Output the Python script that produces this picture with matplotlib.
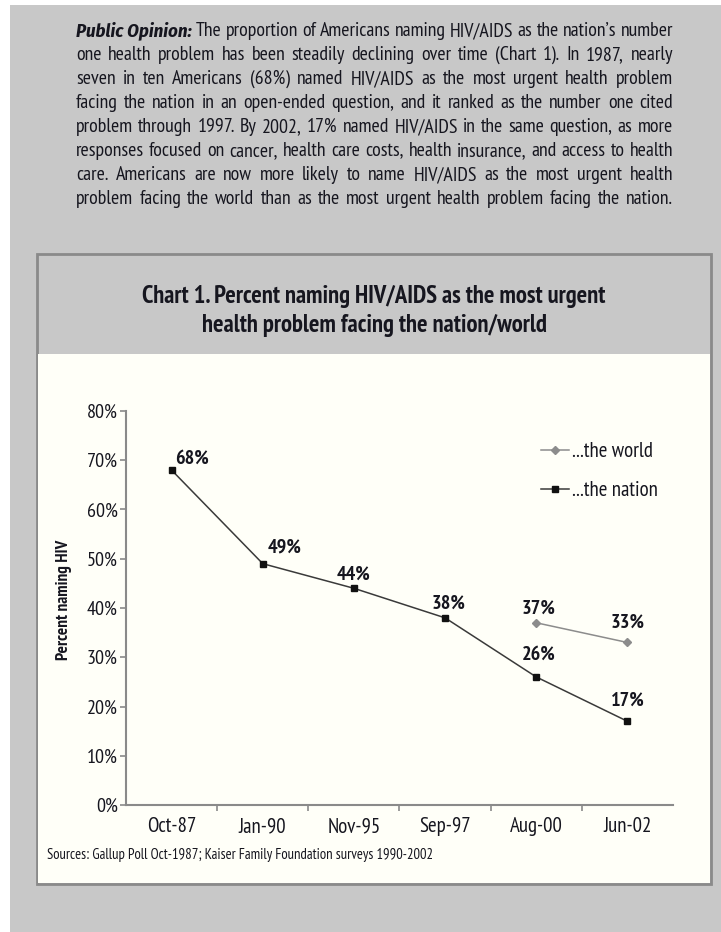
import matplotlib
matplotlib.use("Agg")
import matplotlib.pyplot as plt
from matplotlib.patches import Rectangle
from matplotlib.lines import Line2D

W, H = 721, 932

# ---------------- data ----------------
categories = ["Oct-87", "Jan-90", "Nov-95", "Sep-97", "Aug-00", "Jun-02"]
nation = [68, 49, 44, 38, 26, 17]
world_idx = [4, 5]
world = [37, 33]
y_ticks = [0, 10, 20, 30, 40, 50, 60, 70, 80]
# label offsets in pixels (dx, dy)
nation_off = [(20, 11), (22, 16), (0, 14), (4, 14), (2, 22), (0, 21)]
world_off = [(2, 14), (0, 20)]

body_lines = [
    [("Public Opinion:", "bi"), ("The proportion of Americans naming HIV/AIDS as the nation\u2019s number", "n")],
    [("one health problem has been steadily declining over time (Chart 1). In 1987, nearly", "n")],
    [("seven in ten Americans (68%) named HIV/AIDS as the most urgent health problem", "n")],
    [("facing the nation in an open-ended question, and it ranked as the number one cited", "n")],
    [("problem through 1997.  By 2002, 17% named HIV/AIDS in the same question, as more", "n")],
    [("responses focused on cancer, health care costs, health insurance, and access to health", "n")],
    [("care.  Americans are now more likely to name HIV/AIDS as the most urgent health", "n")],
    [("problem facing the world than as the most urgent health problem facing the nation.", "n")],
]
title_lines = ["Chart 1. Percent naming HIV/AIDS as the most urgent",
               "health problem facing the nation/world"]
source_text = "Sources: Gallup Poll Oct-1987; Kaiser Family Foundation surveys 1990-2002"

FONT = ["PT Sans Narrow", "DejaVu Sans"]
FONT_BI = ["Fira Sans Condensed", "DejaVu Sans"]
plt.rcParams["font.family"] = FONT
TXT = "#16161f"

fig = plt.figure(figsize=(W / 100, H / 100), dpi=100)
fig.patch.set_facecolor("white")


def fx(px):
    return px / W


def fy(py):
    return 1 - py / H


def rect(x0, y0, x1, y1, **kw):
    fig.patches.append(Rectangle((fx(x0), fy(y1)), fx(x1) - fx(x0), fy(y0) - fy(y1),
                                 transform=fig.transFigure, figure=fig, **kw))


# backgrounds
rect(10, 5, 721, 932, facecolor="#c8c8c8", edgecolor="none", zorder=0)
rect(37, 254, 711, 884, facecolor="#c8c8c8", edgecolor="#8a8a8a", linewidth=2, zorder=1)
rect(38, 354, 710, 883, facecolor="#fffff8", edgecolor="none", zorder=1)

# ---------------- justified body text ----------------
renderer = fig.canvas.get_renderer()
x_left, x_right = 76, 673
line_y0, line_dy = 31, 24
body_fs = 14.3
for i, segs in enumerate(body_lines):
    words = []
    for s, st in segs:
        if st == "bi":
            words.append((s, "bi"))
        else:
            for w in s.split():
                words.append((w, "n"))
    ypx = line_y0 + i * line_dy
    objs = []
    total = 0
    for w, st in words:
        if st == "bi":
            t = fig.text(0, fy(ypx), w, fontsize=body_fs - 0.8, color=TXT, va="center", ha="left",
                         fontweight="bold", fontstyle="italic", family=FONT_BI, zorder=3)
        else:
            t = fig.text(0, fy(ypx), w, fontsize=body_fs, color=TXT, va="center", ha="left", zorder=3)
        bb = t.get_window_extent(renderer)
        objs.append((t, bb.width))
        total += bb.width
    gap = (x_right - x_left - total) / max(1, len(objs) - 1)
    x = x_left
    for t, wd in objs:
        t.set_x(fx(x))
        x += wd + gap

# ---------------- title ----------------
for j, tl in enumerate(title_lines):
    fig.text(fx(374), fy(296 + j * 29), tl, fontsize=17.7, fontweight="bold", color=TXT,
             ha="center", va="center", zorder=3)

# ---------------- axes ----------------
ax_l, ax_r, ax_t, ax_b = 126, 673, 411, 805
ax = fig.add_axes([fx(ax_l), fy(ax_b), fx(ax_r) - fx(ax_l), fy(ax_t) - fy(ax_b)], zorder=2)
ax.set_facecolor("none")
x = list(range(len(categories)))
ax.plot(x, nation, color="#3a3a3a", lw=1.1, marker="s", ms=4.5, mfc="#111111", mec="#111111",
        label="...the nation", zorder=3)
ax.plot(world_idx, world, color="#8c8c8c", lw=1.1, marker="D", ms=4, mfc="#8c8c8c", mec="#8c8c8c",
        label="...the world", zorder=3)

for i, v in enumerate(nation):
    dx, dy = nation_off[i]
    ax.annotate(f"{v}%", (i, v), xytext=(dx * 0.72, dy * 0.72), textcoords="offset points",
                ha="center", va="center", fontsize=14.5, fontweight="bold", color=TXT)
for k, i in enumerate(world_idx):
    dx, dy = world_off[k]
    ax.annotate(f"{world[k]}%", (i, world[k]), xytext=(dx * 0.72, dy * 0.72), textcoords="offset points",
                ha="center", va="center", fontsize=14.5, fontweight="bold", color=TXT)

ax.set_xlim(-0.5, len(categories) - 0.5)
ax.set_ylim(0, 80)
ax.set_yticks(y_ticks)
ax.set_yticklabels([f"{v}%" for v in y_ticks])
ax.set_xticks(x)
ax.set_xticklabels(categories)
ax.set_xticks([i + 0.5 for i in range(len(categories) - 1)], minor=True)
ax.tick_params(axis="x", which="major", length=0, pad=9, labelsize=15, labelcolor=TXT)
ax.tick_params(axis="x", which="minor", length=4, width=1.2, color="#8a8a8a", direction="out")
ax.tick_params(axis="y", which="major", length=4, width=1.2, color="#8a8a8a", pad=2,
               labelsize=14.5, labelcolor=TXT)
for s in ["top", "right"]:
    ax.spines[s].set_visible(False)
for s in ["left", "bottom"]:
    ax.spines[s].set_color("#8a8a8a")
    ax.spines[s].set_linewidth(1.5)

fig.text(fx(64), fy(600), "Percent naming HIV", rotation=90, fontsize=12.3, fontweight="bold",
         color=TXT, ha="center", va="center")

# legend
handles = [Line2D([], [], color="#8c8c8c", lw=1.1, marker="D", ms=4, mfc="#8c8c8c", mec="#8c8c8c"),
           Line2D([], [], color="#3a3a3a", lw=1.1, marker="s", ms=4.5, mfc="#111111", mec="#111111")]
leg = ax.legend(handles, ["...the world", "...the nation"], loc="upper left",
                bbox_to_anchor=(fx(531), fy(432)), bbox_transform=fig.transFigure,
                frameon=False, fontsize=15, handlelength=1.3, handletextpad=0.15,
                labelspacing=0.95, borderpad=0)
for t in leg.get_texts():
    t.set_color(TXT)

fig.text(fx(47), fy(855), source_text, fontsize=10.5, color=TXT, ha="left", va="center")

fig.savefig("out.png", dpi=100, facecolor=fig.get_facecolor())
